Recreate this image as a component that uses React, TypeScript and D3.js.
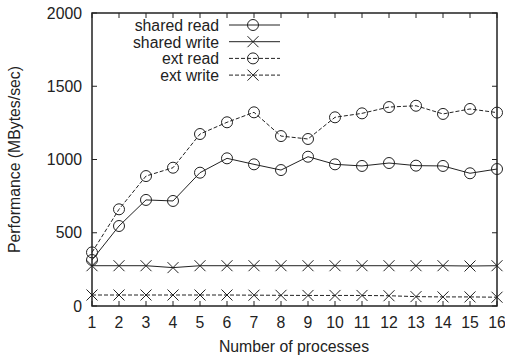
import React from 'react';
import * as d3 from 'd3';

const procs = [1, 2, 3, 4, 5, 6, 7, 8, 9, 10, 11, 12, 13, 14, 15, 16];
const sharedRead = [314, 546, 724, 717, 910, 1008, 967, 928, 1019, 967, 956, 976, 958, 956, 906, 935];
const sharedWrite = [275, 275, 275, 262, 275, 275, 275, 275, 275, 275, 275, 275, 275, 275, 273, 275];
const extRead = [366, 660, 887, 944, 1174, 1254, 1322, 1160, 1140, 1288, 1315, 1358, 1367, 1311, 1345, 1320];
const extWrite = [75, 75, 75, 75, 75, 75, 74, 73, 72, 72, 72, 70, 64, 62, 62, 60];
const yTicks = [0, 500, 1000, 1500, 2000];

const seriesList = [
    { name: 'shared read', values: sharedRead, marker: 'circle', dash: null },
    { name: 'shared write', values: sharedWrite, marker: 'cross', dash: null },
    { name: 'ext read', values: extRead, marker: 'circle', dash: '4,2' },
    { name: 'ext write', values: extWrite, marker: 'cross', dash: '4,2' },
];

const font = 'Liberation Sans, Arial, Helvetica, sans-serif';
const ink = '#222';
const fs = 15.8;

function Marker({ type, x, y }: { type: string; x: number; y: number }) {
    if (type === 'circle') {
        return <circle cx={x} cy={y} r={5.5} fill="none" stroke={ink} strokeWidth={1} />;
    }
    const s = 5.5;
    return (
        <path d={`M${x - s},${y - s}L${x + s},${y + s}M${x - s},${y + s}L${x + s},${y - s}`} stroke={ink} strokeWidth={1} fill="none" />
    );
}

export default function App() {
    const width = 505;
    const height = 358;
    const left = 92, right = 497, top = 13, bottom = 306;

    const x = d3.scaleLinear().domain([1, 16]).range([left, right]);
    const y = d3.scaleLinear().domain([0, 2000]).range([bottom, top]);
    const line = d3.line<number>().x((_, i) => x(procs[i])).y(d => y(d));

    const tick = 5;

    return (
        <svg width={width} height={height} style={{ position: 'absolute', left: 0, top: 0 }} fontFamily={font}>
            <rect width={width} height={height} fill="#fff" />
            {/* ticks */}
            {procs.map(p => (
                <g key={'xt' + p}>
                    <line x1={x(p)} x2={x(p)} y1={bottom} y2={bottom - tick} stroke={ink} />
                    <line x1={x(p)} x2={x(p)} y1={top} y2={top + tick} stroke={ink} />
                    <text x={x(p)} y={328} textAnchor="middle" fontSize={fs} fill={ink}>{p}</text>
                </g>
            ))}
            {yTicks.map(t => (
                <g key={'yt' + t}>
                    <line x1={left} x2={left + tick} y1={y(t)} y2={y(t)} stroke={ink} />
                    <line x1={right} x2={right - tick} y1={y(t)} y2={y(t)} stroke={ink} />
                    <text x={82} y={y(t) + 5.5} textAnchor="end" fontSize={fs} fill={ink}>{t}</text>
                </g>
            ))}
            {/* series */}
            {seriesList.map(s => (
                <g key={s.name}>
                    <path d={line(s.values) || ''} fill="none" stroke={ink} strokeWidth={1} strokeDasharray={s.dash || undefined} />
                    {s.values.map((v, i) => (
                        <Marker key={i} type={s.marker} x={x(procs[i])} y={y(v)} />
                    ))}
                </g>
            ))}
            {/* legend */}
            {seriesList.map((s, i) => {
                const ly = 25 + i * 16.7;
                return (
                    <g key={'lg' + s.name}>
                        <text x={219} y={ly + 6} textAnchor="end" fontSize={fs} fill={ink}>{s.name}</text>
                        <line x1={229} x2={280} y1={ly} y2={ly} stroke={ink} strokeDasharray={s.dash || undefined} />
                        <Marker type={s.marker} x={253} y={ly} />
                    </g>
                );
            })}
            <rect x={left} y={top} width={right - left} height={bottom - top} fill="none" stroke={ink} strokeWidth={1.5} />
            <text x={294} y={352} textAnchor="middle" fontSize={fs} fill={ink}>Number of processes</text>
            <text transform={`translate(19.5,${(top + bottom) / 2}) rotate(-90)`} textAnchor="middle" fontSize={fs} fill={ink}>Performance (MBytes/sec)</text>
        </svg>
    );
}
